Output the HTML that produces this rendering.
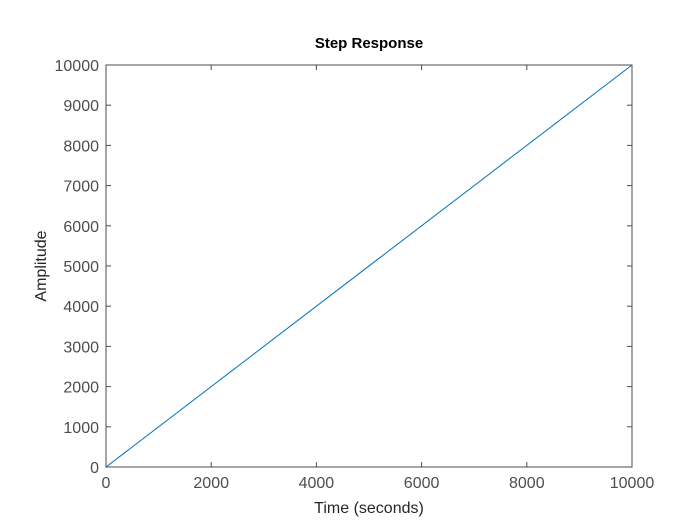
<!DOCTYPE html>
<html><head><meta charset="utf-8"><style>
html,body{margin:0;padding:0;background:#fff;}
svg{display:block;font-family:"Liberation Sans",Arial,sans-serif;}
</style></head><body>
<svg id="chart" width="700" height="525" viewBox="0 0 700 525">
<rect width="700" height="525" fill="#fff"/>
<text x="369" y="48" text-anchor="middle" font-size="15" font-weight="bold" fill="#000">Step Response</text>
<text x="369" y="513" text-anchor="middle" font-size="16" fill="#262626">Time (seconds)</text>
<text transform="translate(46,266) rotate(-90)" text-anchor="middle" font-size="16" fill="#262626">Amplitude</text>
<g id="axes"></g>
</svg>
<script>
const xTicks = [0, 2000, 4000, 6000, 8000, 10000];
const yTicks = [0, 1000, 2000, 3000, 4000, 5000, 6000, 7000, 8000, 9000, 10000];
const seriesX = [0, 10000];
const seriesY = [0, 10000];
const L = 106, R = 632, T = 65, B = 467;
const xMin = 0, xMax = 10000, yMin = 0, yMax = 10000;
const AX = '#4d4d4d';
function sx(v){ return L + (v - xMin) / (xMax - xMin) * (R - L); }
function sy(v){ return B - (v - yMin) / (yMax - yMin) * (B - T); }
const NS = "http://www.w3.org/2000/svg";
const g = document.getElementById('axes');
function mk(tag, attrs){ const e = document.createElementNS(NS, tag); for (const k in attrs) e.setAttribute(k, attrs[k]); g.appendChild(e); return e; }
const box = mk('rect', {x:L, y:T, width:R-L, height:B-T, fill:'none', stroke:AX, 'stroke-width':1});


xTicks.forEach(v => {
  const x = sx(v);
  const t1 = mk('line', {x1:x, x2:x, y1:B, y2:B-5, stroke:AX});
  
  
  const t2 = mk('line', {x1:x, x2:x, y1:T, y2:T+5, stroke:AX});
  
  
  const lb = mk('text', {x:x, y:B+21, 'text-anchor':'middle', 'font-size':16, fill:AX});
  lb.textContent = v;
  
  
});
yTicks.forEach(v => {
  const y = sy(v);
  const t1 = mk('line', {x1:L, x2:L+5, y1:y, y2:y, stroke:AX});
  
  
  const t2 = mk('line', {x1:R, x2:R-5, y1:y, y2:y, stroke:AX});
  
  
  const lb = mk('text', {x:L-7, y:y+6, 'text-anchor':'end', 'font-size':16, fill:AX});
  lb.textContent = v;
  
  
});
const pts = seriesX.map((x,i) => sx(x) + ',' + sy(seriesY[i])).join(' ');
const line = mk('polyline', {points:pts, fill:'none', stroke:'#0072BD', 'stroke-width':1});


</script>
</body></html>
